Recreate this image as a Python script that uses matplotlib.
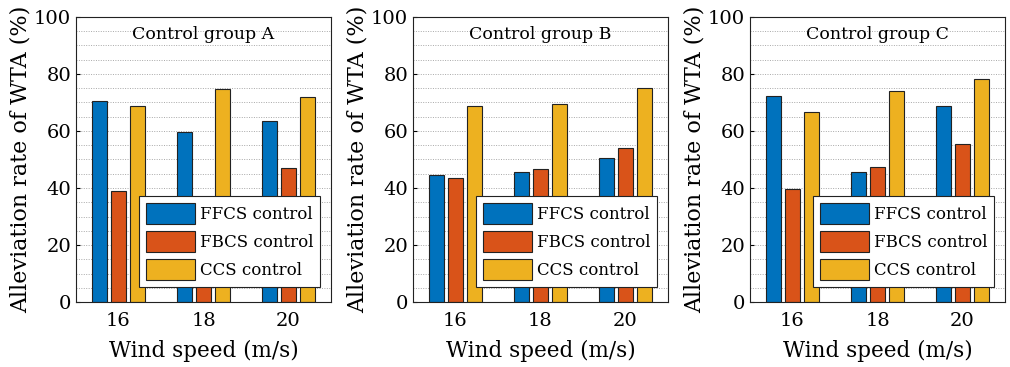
import matplotlib
matplotlib.use("Agg")
import matplotlib.pyplot as plt
import numpy as np

speeds = [16, 18, 20]
groups = ["Control group A", "Control group B", "Control group C"]
series_names = ["FFCS control", "FBCS control", "CCS control"]
colors = ["#0072BD", "#D95319", "#EDB120"]

ffcs_A = [70.6, 59.8, 63.6]
fbcs_A = [38.8, 33.0, 46.9]
ccs_A = [68.9, 74.8, 71.9]

ffcs_B = [44.5, 45.7, 50.4]
fbcs_B = [43.6, 46.8, 54.0]
ccs_B = [68.8, 69.4, 75.1]

ffcs_C = [72.4, 45.5, 68.7]
fbcs_C = [39.6, 47.4, 55.4]
ccs_C = [66.8, 74.0, 78.4]

data = [[ffcs_A, fbcs_A, ccs_A], [ffcs_B, fbcs_B, ccs_B], [ffcs_C, fbcs_C, ccs_C]]

plt.rcParams['font.family'] = ['DejaVu Serif']
fig = plt.figure(figsize=(10.10, 3.67), dpi=100)
lefts = [76, 413, 750]
W = 255
for gi, (left, title, series) in enumerate(zip(lefts, groups, data)):
    ax = fig.add_axes([left / 1010, (367 - 302) / 367, W / 1010, 285 / 367])
    x = np.array(speeds, dtype=float)
    offs = [-0.45, 0.0, 0.45]
    for si, vals in enumerate(series):
        ax.bar(x + offs[si], vals, width=0.35, color=colors[si], edgecolor="#222222",
               linewidth=0.8, label=series_names[si], zorder=2)
    ax.set_xlim(15, 21)
    ax.set_ylim(0, 100)
    ax.set_xticks(speeds)
    ax.set_yticks([0, 20, 40, 60, 80, 100])
    ax.set_yticks(np.arange(0, 101, 5), minor=True)
    ax.yaxis.grid(True, which='both', linestyle=(0, (1, 1.5)), color='#a8a8a8', linewidth=0.7, zorder=0)
    ax.set_axisbelow(True)
    ax.tick_params(axis='both', which='major', direction='in', length=3, labelsize=14, top=False, right=False)
    ax.tick_params(axis='x', which='major', pad=7)
    ax.tick_params(axis='y', which='minor', length=0)
    for s in ax.spines.values():
        s.set_linewidth(0.8)
        s.set_color('#222222')
    ax.set_xlabel("Wind speed (m/s)", fontsize=15.5, labelpad=7)
    ax.set_ylabel("Alleviation rate of WTA (%)", fontsize=16, labelpad=2)
    ax.text(0.5, 0.94, title, transform=ax.transAxes, ha='center', va='center', fontsize=12.5, zorder=5)
    leg = ax.legend(loc='lower right', bbox_to_anchor=(0.957, 0.052), borderaxespad=0,
                    fontsize=12, frameon=True,
                    fancybox=False, edgecolor='#222222', framealpha=1, handlelength=2.94,
                    handleheight=1.56, borderpad=0.42, labelspacing=0.44, handletextpad=0.3)
    leg.get_frame().set_linewidth(0.8)
    leg.set_zorder(10)

fig.savefig("out.png", dpi=100)
